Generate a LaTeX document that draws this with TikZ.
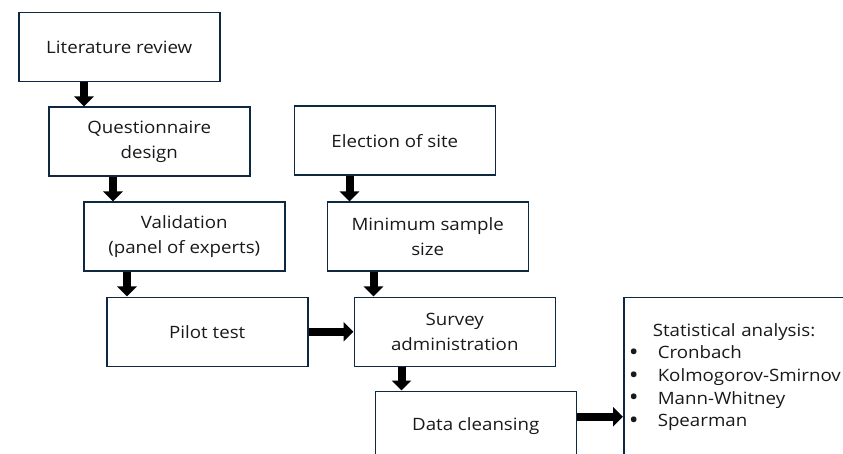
\documentclass[tikz,border=0pt]{standalone}
\usepackage{fontspec}
\setmainfont{Open Sans}[FakeStretch=1.1]
\usetikzlibrary{arrows.meta, positioning}
\definecolor{boxline}{HTML}{0E2841}
\newcommand{\bulletitem}[1]{\makebox[29pt][l]{\raisebox{-1.5pt}{\scalebox{1.4}{•}}}#1}

\begin{document}
\begin{tikzpicture}[
        x=1pt, y=-1pt,
        box/.style={draw=boxline, line width=1.5pt, minimum width=201pt, minimum height=69pt, align=center, inner sep=4pt, text=black!90, font=\fontsize{17}{25}\selectfont},
        arrow/.style={-{Triangle[length=10pt, width=19pt]}, line width=8pt}
    ]
    \path[use as bounding box, clip] (0,0) rectangle (843,454);

    % Left column
    \node[box, anchor=north west] (lit) at (18,12) {Literature review};
    \node[box, below=24pt of lit.south west, anchor=north west, xshift=30pt] (quest) {Questionnaire\\design};
    \node[box, below=24.5pt of quest.south west, anchor=north west, xshift=35pt] (valid) {Validation\\(panel of experts)};
    \node[box, below=24.5pt of valid.south west, anchor=north west, xshift=23pt] (pilot) {Pilot test};

    % Right column
    \node[box, right=43pt of quest.north east, anchor=north west, yshift=1pt] (elect) {Election of site};
    \node[box, below=25.5pt of elect.south west, anchor=north west, xshift=33pt] (minsamp) {Minimum sample\\size};
    \node[box, right=45pt of pilot] (survey) {Survey\\administration};
    \node[box, below=23.5pt of survey.south west, anchor=north west, xshift=21pt] (data) {Data cleansing};

    % Analysis
    \node[box, right=67pt of survey.north east, anchor=north west, align=left, text width=250pt, inner xsep=5pt, inner ysep=26pt, text depth=160pt, font=\fontsize{17}{22.7}\selectfont] (stats) {
        \hspace*{24pt}Statistical analysis:\\
        \bulletitem{Cronbach}\\
        \bulletitem{Kolmogorov-Smirnov}\\
        \bulletitem{Mann-Whitney}\\
        \bulletitem{Spearman}
    };

    % Arrows
    \draw[arrow] ([xshift=66pt]lit.south west) -- ([xshift=66pt]lit.south west |- quest.north);
    \draw[arrow] ([xshift=65pt]quest.south west) -- ([xshift=65pt]quest.south west |- valid.north);
    \draw[arrow] ([xshift=44pt]valid.south west) -- ([xshift=44pt]valid.south west |- pilot.north);
    \draw[arrow] ([xshift=56pt]elect.south west) -- ([xshift=56pt]elect.south west |- minsamp.north);
    \draw[arrow] ([xshift=47pt]minsamp.south west) -- ([xshift=47pt]minsamp.south west |- survey.north);
    \draw[arrow] ([xshift=48pt]survey.south west) -- ([xshift=48pt]survey.south west |- data.north);
    \draw[arrow] (pilot) -- (survey);
    \draw[arrow] ([yshift=9pt]data.east) -- ([yshift=9pt]data.east -| stats.west);

\end{tikzpicture}
\end{document}
